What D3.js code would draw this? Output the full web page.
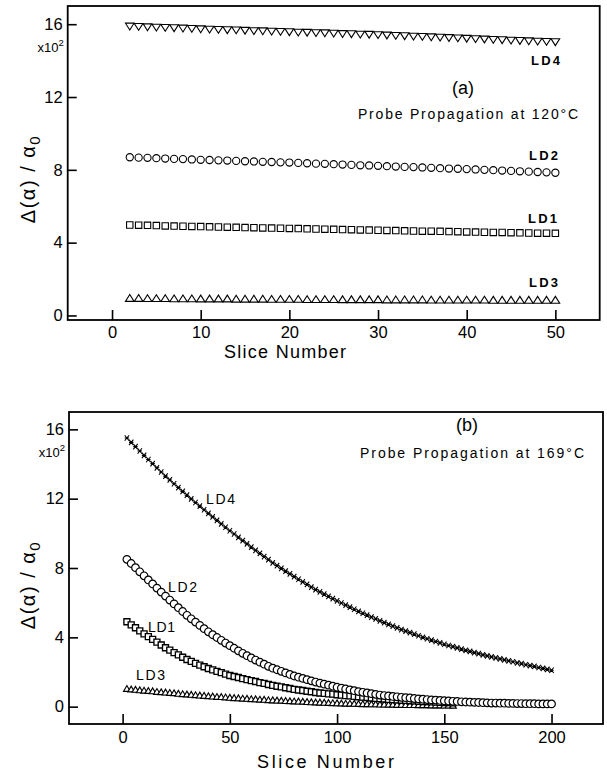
<!DOCTYPE html>
<html><head><meta charset="utf-8">
<script src="https://cdn.jsdelivr.net/npm/d3@7"></script>
<style>body{margin:0;background:#fff}</style>
</head><body>
<svg id="c" width="607" height="772" xmlns="http://www.w3.org/2000/svg"></svg>
<script>
// ---------- DATA ----------
const seriesNames = ["LD1", "LD2", "LD3", "LD4"];
const yTickValues = [0, 4, 8, 12, 16];
const topXTicks = [0, 10, 20, 30, 40, 50];
const botXTicks = [0, 50, 100, 150, 200];

// Panel (a): slices 2..50
const topSlices = d3.range(2, 51);
const topLD4 = [15.87,15.85,15.83,15.81,15.80,15.78,15.76,15.74,15.72,
  15.70,15.69,15.67,15.66,15.64,15.62,15.61,15.59,15.58,15.56,
  15.54,15.53,15.51,15.50,15.48,15.46,15.45,15.43,15.42,15.40,
  15.38,15.36,15.34,15.32,15.30,15.28,15.26,15.24,15.22,15.20,
  15.18,15.16,15.14,15.12,15.10,15.08,15.06,15.04,15.03,15.01];
const topLD2 = [8.69,8.67,8.66,8.64,8.62,8.60,8.59,8.57,8.55,
  8.54,8.52,8.51,8.49,8.47,8.46,8.44,8.43,8.41,8.40,
  8.38,8.36,8.34,8.33,8.31,8.29,8.27,8.25,8.24,8.22,
  8.20,8.18,8.16,8.15,8.13,8.11,8.09,8.07,8.06,8.04,
  8.02,8.00,7.98,7.96,7.94,7.92,7.90,7.88,7.86,7.84];
const topLD1 = [4.97,4.96,4.95,4.94,4.92,4.91,4.90,4.89,4.88,
  4.87,4.86,4.85,4.84,4.83,4.82,4.81,4.80,4.79,4.78,
  4.77,4.76,4.75,4.74,4.73,4.72,4.71,4.70,4.69,4.68,
  4.67,4.66,4.65,4.64,4.63,4.63,4.62,4.61,4.60,4.59,
  4.58,4.57,4.56,4.56,4.55,4.54,4.53,4.52,4.52,4.51];
const topLD3 = [0.96,0.96,0.95,0.95,0.95,0.94,0.94,0.94,0.93,
  0.93,0.93,0.93,0.92,0.92,0.92,0.92,0.91,0.91,0.91,
  0.91,0.90,0.90,0.90,0.90,0.89,0.89,0.89,0.89,0.89,
  0.88,0.88,0.88,0.88,0.88,0.87,0.87,0.87,0.87,0.87,
  0.87,0.87,0.86,0.86,0.86,0.86,0.86,0.86,0.86,0.86];

// Panel (b): slices 2..200 (LD4, LD2), 2..154 (LD1, LD3)
const botSlicesLong = d3.range(2, 201, 2);
const botSlicesShort = d3.range(2, 155, 2);
const botLD4 = [15.50,15.25,15.00,14.75,14.50, 14.26,14.02,13.78,13.54,13.30,
  13.08,12.86,12.64,12.42,12.20, 11.99,11.78,11.57,11.36,11.15,
  10.95,10.75,10.55,10.35,10.15, 9.96,9.77,9.58,9.39,9.20,
  9.02,8.84,8.66,8.48,8.30, 8.14,7.98,7.82,7.66,7.50,
  7.35,7.20,7.05,6.90,6.75, 6.62,6.49,6.36,6.23,6.10,
  5.98,5.86,5.74,5.62,5.50, 5.39,5.28,5.17,5.06,4.95,
  4.85,4.75,4.65,4.55,4.45, 4.36,4.27,4.18,4.09,4.00,
  3.92,3.84,3.76,3.68,3.60, 3.53,3.46,3.39,3.32,3.25,
  3.19,3.12,3.06,2.99,2.93, 2.87,2.81,2.76,2.70,2.64,
  2.59,2.53,2.48,2.42,2.37, 2.32,2.26,2.21,2.15,2.10];
const botLD2 = [8.50,8.26,8.02,7.78,7.55, 7.31,7.08,6.84,6.61,6.38,
  6.15,5.93,5.71,5.49,5.27, 5.07,4.88,4.69,4.50,4.32,
  4.15,3.99,3.83,3.67,3.52, 3.37,3.22,3.08,2.94,2.81,
  2.69,2.57,2.45,2.33,2.22, 2.13,2.04,1.95,1.86,1.77,
  1.70,1.63,1.56,1.49,1.42, 1.36,1.30,1.24,1.18,1.12,
  1.07,1.02,0.97,0.92,0.87, 0.83,0.79,0.75,0.71,0.67,
  0.64,0.62,0.59,0.57,0.54, 0.52,0.50,0.47,0.45,0.43,
  0.41,0.39,0.38,0.36,0.34, 0.33,0.31,0.30,0.28,0.27,
  0.26,0.25,0.24,0.23,0.22, 0.21,0.21,0.20,0.20,0.19,
  0.19,0.18,0.18,0.17,0.17, 0.17,0.16,0.16,0.16,0.16];
const botLD1 = [4.90,4.72,4.55,4.37,4.20, 4.04,3.88,3.72,3.56,3.40,
  3.26,3.12,2.99,2.85,2.72, 2.61,2.50,2.40,2.30,2.20,
  2.12,2.04,1.96,1.88,1.80, 1.74,1.68,1.62,1.56,1.50,
  1.45,1.39,1.34,1.28,1.23, 1.18,1.14,1.09,1.05,1.00,
  0.96,0.93,0.89,0.86,0.82, 0.79,0.77,0.74,0.72,0.69,
  0.67,0.64,0.62,0.59,0.57, 0.55,0.53,0.50,0.48,0.46,
  0.44,0.42,0.41,0.39,0.37, 0.36,0.34,0.33,0.31,0.30,
  0.29,0.28,0.26,0.25,0.24, 0.23,0.22];
const botLD3 = [1.05,1.02,1.00,0.97,0.95, 0.93,0.91,0.88,0.86,0.84,
  0.82,0.80,0.77,0.75,0.73, 0.71,0.69,0.67,0.65,0.63,
  0.61,0.59,0.58,0.56,0.54, 0.52,0.51,0.49,0.48,0.46,
  0.45,0.43,0.42,0.40,0.39, 0.38,0.37,0.35,0.34,0.33,
  0.32,0.31,0.29,0.28,0.27, 0.26,0.25,0.24,0.23,0.22,
  0.21,0.20,0.20,0.19,0.18, 0.17,0.17,0.16,0.16,0.15,
  0.15,0.14,0.14,0.13,0.13, 0.12,0.12,0.12,0.11,0.11,
  0.11,0.10,0.10,0.10,0.09, 0.09,0.08];

// ---------- DRAWING ----------
const svg = d3.select("#c");
const FONT = "'Liberation Sans', Arial, sans-serif";

const shapes = {
  triDown: s => `M${-s.w/2},${-s.h/2}L${s.w/2},${-s.h/2}L0,${s.h/2}Z`,
  triUp: s => `M${-s.w/2},${s.h/2}L${s.w/2},${s.h/2}L0,${-s.h/2}Z`,
  square: s => `M${-s.w/2},${-s.w/2}h${s.w}v${s.w}h${-s.w}Z`,
  circle: s => `M${s.w/2},0A${s.w/2},${s.w/2},0,1,1,${-s.w/2},0A${s.w/2},${s.w/2},0,1,1,${s.w/2},0Z`,
  cross: s => `M${-s.w/2},${-s.h/2}L${s.w/2},${s.h/2}M${-s.w/2},${s.h/2}L${s.w/2},${-s.h/2}M${-s.w/2},0L${s.w/2},0`
};

function drawPanel(cfg) {
  const x = d3.scaleLinear().domain(cfg.xDomain).range(cfg.xRange);
  const y = d3.scaleLinear().domain(cfg.yDomain).range(cfg.yRange);
  const g = svg.append("g");

  // series
  cfg.series.forEach(s => {
    const pts = s.xs.map((v, i) => [v, s.ys[i]]);
    g.append("g").selectAll("path").data(pts).join("path")
      .attr("transform", d => `translate(${x(d[0])},${y(d[1])})`)
      .attr("d", shapes[s.shape](s.size))
      .attr("fill", s.shape === "cross" ? "none" : "#fff")
      .attr("stroke", "#000")
      .attr("stroke-width", s.sw);
  });

  // axes
  const ax = g.append("g").attr("transform", `translate(0,${cfg.yRange[0]})`)
    .call(d3.axisBottom(x).tickValues(cfg.xTicks).tickSize(-10).tickPadding(cfg.xPad));
  const ay = g.append("g").attr("transform", `translate(${cfg.xRange[0]},0)`)
    .call(d3.axisLeft(y).tickValues(yTickValues).tickSize(-9).tickPadding(5));
  [ax, ay].forEach(a => {
    a.select(".domain").remove();
    a.selectAll("line").attr("stroke", "#000").attr("stroke-width", 1.6);
    a.selectAll("text").attr("font-family", FONT).attr("font-size", 16.5).attr("fill", "#000");
  });

  // frame
  g.append("rect")
    .attr("x", cfg.xRange[0]).attr("y", cfg.yRange[1])
    .attr("width", cfg.xRange[1] - cfg.xRange[0])
    .attr("height", cfg.yRange[0] - cfg.yRange[1])
    .attr("fill", "none").attr("stroke", "#000").attr("stroke-width", 1.8);

  // x10^2
  const m = g.append("text").attr("x", cfg.xRange[0] - 4).attr("y", y(16) + 28)
    .attr("text-anchor", "end").attr("font-family", FONT).attr("font-size", 13);
  m.append("tspan").text("x10");
  m.append("tspan").attr("dy", -6).attr("font-size", 9.5).text("2");

  // y title
  const yt = g.append("text")
    .attr("transform", `translate(35,${cfg.yTitleY}) rotate(-90)`)
    .attr("text-anchor", "middle").attr("font-family", FONT).attr("font-size", 20)
    .attr("letter-spacing", 1.5);
  yt.append("tspan").text("Δ(α) / α");
  yt.append("tspan").attr("dy", 5).attr("font-size", 15).text("0");

  // x title
  g.append("text").attr("x", cfg.xTitle[0]).attr("y", cfg.xTitle[1])
    .attr("font-family", FONT).attr("font-size", 18)
    .attr("textLength", cfg.xTitle[2]).attr("lengthAdjust", "spacing")
    .text("Slice Number");

  // annotations
  cfg.labels.forEach(l => {
    g.append("text").attr("x", l.x).attr("y", l.y)
      .attr("font-family", FONT).attr("font-size", l.fs)
      .attr("font-weight", l.bold ? "bold" : "normal")
      .attr("text-anchor", l.anchor || "start")
      .attr("textLength", l.len || null).attr("lengthAdjust", "spacing")
      .text(l.t);
  });
}

drawPanel({
  xDomain: [-5, 55], xRange: [67.7, 599.7],
  yDomain: [-0.25, 17], yRange: [320, 6],
  xTicks: topXTicks, xPad: 6,
  yTitleY: 179, xTitle: [224, 358, 122],
  series: [
    { xs: topSlices, ys: topLD3, shape: "triUp", size: { w: 8.6, h: 6.8 }, sw: 1.1 },
    { xs: topSlices, ys: topLD1, shape: "square", size: { w: 6.4 }, sw: 1.1 },
    { xs: topSlices, ys: topLD2, shape: "circle", size: { w: 7.2 }, sw: 1.1 },
    { xs: topSlices, ys: topLD4, shape: "triDown", size: { w: 8.6, h: 6.8 }, sw: 1.1 }
  ],
  labels: [
    { t: "LD4", x: 531, y: 65, fs: 13, bold: true, len: 29 },
    { t: "(a)", x: 463, y: 94, fs: 18, anchor: "middle" },
    { t: "Probe Propagation at 120°C", x: 358, y: 119, fs: 14, len: 220 },
    { t: "LD2", x: 529, y: 159.5, fs: 13, bold: true, len: 29 },
    { t: "LD1", x: 528, y: 223, fs: 13, bold: true, len: 29 },
    { t: "LD3", x: 529, y: 287, fs: 13, bold: true, len: 29 }
  ]
});

drawPanel({
  xDomain: [-25, 224], xRange: [69, 603],
  yDomain: [-1, 17], yRange: [724, 412],
  xTicks: botXTicks, xPad: 7,
  yTitleY: 585, xTitle: [257, 768, 137],
  series: [
    { xs: botSlicesShort, ys: botLD3, shape: "triUp", size: { w: 6.8, h: 5.8 }, sw: 1.15 },
    { xs: botSlicesShort, ys: botLD1, shape: "square", size: { w: 6 }, sw: 1.35 },
    { xs: botSlicesLong, ys: botLD2, shape: "circle", size: { w: 7.6 }, sw: 1.2 },
    { xs: botSlicesLong, ys: botLD4, shape: "cross", size: { w: 4.4, h: 5.5 }, sw: 1.1 }
  ],
  labels: [
    { t: "(b)", x: 467, y: 431, fs: 18, anchor: "middle" },
    { t: "Probe Propagation at 169°C", x: 360, y: 458, fs: 14, len: 224 },
    { t: "LD4", x: 206, y: 504, fs: 14, len: 29 },
    { t: "LD2", x: 168, y: 592, fs: 14, len: 29 },
    { t: "LD1", x: 148, y: 632, fs: 14, len: 27 },
    { t: "LD3", x: 136, y: 679.5, fs: 14, len: 29 }
  ]
});
</script>
</body></html>
